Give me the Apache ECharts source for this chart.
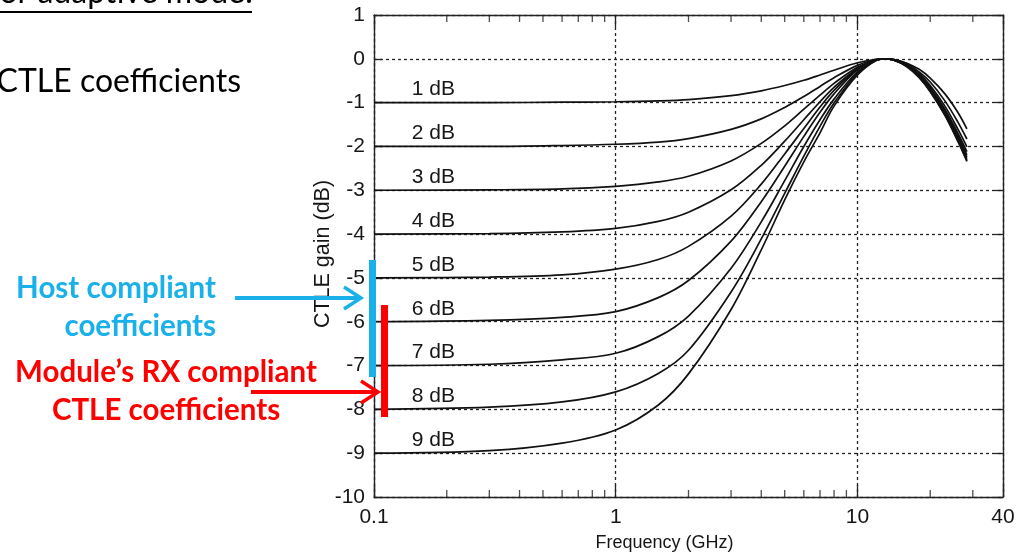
<!DOCTYPE html>
<html><head><meta charset="utf-8">
<script src="https://cdn.jsdelivr.net/npm/echarts@6/dist/echarts.min.js"></script>
<style>html,body{margin:0;padding:0;background:#fff;overflow:hidden}#c{width:1025px;height:557px}</style>
</head><body><div id="c"></div>
<script>
// ---- data ----
const freqGHz = [0.1, 0.3, 0.6, 1, 1.5, 2, 3, 4, 5, 6, 7, 8, 10, 12, 13, 14, 16, 18, 20, 23, 26, 28.36];
const gain1dB = [-1.00,-1.00,-0.99,-0.98,-0.96,-0.93,-0.84,-0.73,-0.61,-0.49,-0.37,-0.26,-0.09,-0.01,0,-0.01,-0.10,-0.24,-0.44,-0.80,-1.22,-1.60];
const gain2dB = [-2.00,-2.00,-1.98,-1.95,-1.90,-1.82,-1.61,-1.37,-1.11,-0.86,-0.63,-0.43,-0.15,-0.01,0,-0.01,-0.11,-0.30,-0.53,-0.96,-1.44,-1.83];
const gain3dB = [-3.00,-2.99,-2.97,-2.91,-2.81,-2.68,-2.33,-1.93,-1.53,-1.15,-0.83,-0.56,-0.19,-0.02,0,-0.02,-0.14,-0.34,-0.61,-1.08,-1.60,-2.01];
const gain4dB = [-4.00,-3.99,-3.95,-3.87,-3.71,-3.50,-2.99,-2.43,-1.88,-1.39,-0.98,-0.65,-0.22,-0.02,0,-0.02,-0.15,-0.37,-0.65,-1.15,-1.69,-2.12];
const gain5dB = [-5.00,-4.98,-4.93,-4.80,-4.58,-4.28,-3.59,-2.86,-2.17,-1.59,-1.10,-0.72,-0.23,-0.02,0,-0.01,-0.15,-0.39,-0.68,-1.19,-1.74,-2.19];
const gain6dB = [-6.00,-5.97,-5.90,-5.77,-5.45,-5.06,-4.16,-3.26,-2.45,-1.77,-1.22,-0.80,-0.25,-0.02,0,-0.02,-0.16,-0.40,-0.71,-1.23,-1.79,-2.24];
const gain7dB = [-7.00,-6.97,-6.87,-6.72,-6.34,-5.87,-4.78,-3.72,-2.78,-2.00,-1.39,-0.92,-0.30,-0.02,0,-0.02,-0.16,-0.41,-0.72,-1.25,-1.83,-2.28];
const gain8dB = [-8.00,-7.95,-7.83,-7.60,-7.18,-6.65,-5.32,-4.11,-3.07,-2.22,-1.54,-1.01,-0.33,-0.03,0,-0.02,-0.17,-0.42,-0.74,-1.28,-1.86,-2.32];
const gain9dB = [-9.00,-8.94,-8.77,-8.47,-7.90,-7.19,-5.72,-4.36,-3.22,-2.35,-1.69,-1.08,-0.37,-0.03,0,-0.02,-0.18,-0.43,-0.75,-1.29,-1.88,-2.34];
const curveLabels = ['1 dB','2 dB','3 dB','4 dB','5 dB','6 dB','7 dB','8 dB','9 dB'];
const lowFreqGain = [-1,-2,-3,-4,-5,-6,-7,-8,-9];
const labelFreq = 0.176;
const minorTickFreqs = [0.2,0.3,0.4,0.5,0.6,0.7,0.8,0.9,2,3,4,5,6,7,8,9,20,30];
const xRange = [0.1, 40];
const yRange = [-10, 1];

// ---- chart ----
const chart = echarts.init(document.getElementById('c'), null, {renderer: 'canvas'});
const curves = [gain1dB,gain2dB,gain3dB,gain4dB,gain5dB,gain6dB,gain7dB,gain8dB,gain9dB];
const FONT = 'Liberation Sans';
const INK = '#161616';

const lineSeries = curves.map((vals, i) => ({
  type: 'line',
  xAxisIndex: 0, yAxisIndex: 0,
  data: freqGHz.map((f, j) => [f, vals[j]]),
  smooth: 0.35,
  showSymbol: false,
  symbol: 'none',
  lineStyle: {color: '#111', width: 1.7},
  z: 3,
  silent: true,
  markPoint: {
    symbol: 'circle', symbolSize: 0, silent: true,
    data: [{coord: [labelFreq, lowFreqGain[i]]}],
    label: {show: true, position: 'inside', offset: [0, -13], formatter: curveLabels[i],
            color: INK, fontFamily: FONT, fontSize: 21}
  }
}));

const tickMark = (yv, off) => ({
  type: 'scatter', xAxisIndex: 0, yAxisIndex: 0, silent: true,
  data: minorTickFreqs.map(f => [f, yv]),
  symbol: 'rect', symbolSize: [1.3, 7], symbolOffset: [0, off],
  itemStyle: {color: '#222'}, z: 6, clip: false
});

const axisLineStyle = {show: true, onZero: false, lineStyle: {color: '#222', width: 1.4}};
const gridDash = {show: true, lineStyle: {color: '#222', width: 1.3, type: [3, 3]}};

chart.setOption({
  animation: false,
  backgroundColor: '#fff',
  grid: {left: 374, right: 22, top: 15, bottom: 59},
  xAxis: [{
    type: 'log', logBase: 10, min: xRange[0], max: xRange[1], position: 'bottom',
    axisLine: axisLineStyle,
    axisTick: {show: true, inside: true, length: 12, lineStyle: {color: '#222', width: 1.3}},
    axisLabel: {show: true, margin: 10, color: INK, fontFamily: FONT, fontSize: 21,
                formatter: v => String(+(+v).toPrecision(3)), showMinLabel: true, showMaxLabel: true},
    splitLine: gridDash,
    minorTick: {show: false},
    name: 'Frequency (GHz)', nameLocation: 'middle', nameGap: 37, nameMoveOverlap: false,
    nameTextStyle: {color: INK, fontFamily: FONT, fontSize: 18, padding: [0, 48, 0, 0]}
  }, {
    type: 'log', logBase: 10, min: xRange[0], max: xRange[1], position: 'top',
    axisLine: axisLineStyle,
    axisTick: {show: true, inside: true, length: 12, lineStyle: {color: '#222', width: 1.3}},
    axisLabel: {show: false}, splitLine: {show: false}
  }],
  yAxis: [{
    type: 'value', min: yRange[0], max: yRange[1], interval: 1, position: 'left',
    axisLine: axisLineStyle,
    axisTick: {show: true, inside: true, length: 8, lineStyle: {color: '#222', width: 1.3}},
    axisLabel: {show: true, margin: 9, color: INK, fontFamily: FONT, fontSize: 21},
    splitLine: gridDash,
    name: 'CTLE gain (dB)', nameLocation: 'middle', nameGap: 40, nameRotate: 90, nameMoveOverlap: false,
    nameTextStyle: {color: INK, fontFamily: FONT, fontSize: 21.5, padding: [0, 0, 0, 4]}
  }, {
    type: 'value', min: yRange[0], max: yRange[1], interval: 1, position: 'right',
    axisLine: axisLineStyle,
    axisTick: {show: true, inside: true, length: 8, lineStyle: {color: '#222', width: 1.3}},
    axisLabel: {show: false}, splitLine: {show: false}
  }],
  series: [...lineSeries, tickMark(yRange[0], -3.5), tickMark(yRange[1], 3.5)],
  graphic: [
    {type: 'text', x: 253, y: 9, z: 10, style: {text: 'for adaptive mode:', fill: '#000',
      font: '32px Lato', textAlign: 'right', textVerticalAlign: 'bottom'}},
    {type: 'line', z: 10, shape: {x1: 0, y1: 12, x2: 252, y2: 12}, style: {stroke: '#000', lineWidth: 2}},
    {type: 'text', x: 241, y: 82, z: 10, style: {text: 'CTLE coefficients', fill: '#000',
      font: '32px Lato', textAlign: 'right', textVerticalAlign: 'middle'}},
    {type: 'text', x: 216, y: 288, z: 10, style: {text: 'Host compliant', fill: '#1AB0EA',
      font: 'bold 29.5px Lato', textAlign: 'right', textVerticalAlign: 'middle'}},
    {type: 'text', x: 216, y: 326, z: 10, style: {text: 'coefficients', fill: '#1AB0EA',
      font: 'bold 29.5px Lato', textAlign: 'right', textVerticalAlign: 'middle'}},
    {type: 'line', z: 10, shape: {x1: 235, y1: 298, x2: 360, y2: 298}, style: {stroke: '#1AB0EA', lineWidth: 4}},
    {type: 'polyline', z: 10, shape: {points: [[344, 287], [361, 298], [344, 309]]}, style: {stroke: '#1AB0EA', lineWidth: 3.5, fill: null}},
    {type: 'rect', z: 10, shape: {x: 369, y: 260, width: 7, height: 117}, style: {fill: '#1AB0EA'}},
    {type: 'text', x: 166, y: 372, z: 10, style: {text: 'Module\u2019s RX compliant', fill: '#FF0000',
      font: 'bold 29.5px Lato', textAlign: 'center', textVerticalAlign: 'middle'}},
    {type: 'text', x: 166, y: 410, z: 10, style: {text: 'CTLE coefficients', fill: '#FF0000',
      font: 'bold 29.5px Lato', textAlign: 'center', textVerticalAlign: 'middle'}},
    {type: 'line', z: 10, shape: {x1: 251, y1: 392, x2: 376, y2: 392}, style: {stroke: '#FF0000', lineWidth: 4}},
    {type: 'polyline', z: 10, shape: {points: [[361, 381], [378, 392], [361, 403]]}, style: {stroke: '#FF0000', lineWidth: 3.5, fill: null}},
    {type: 'rect', z: 10, shape: {x: 381, y: 305, width: 7, height: 112}, style: {fill: '#FF0000'}}
  ]
});
</script></body></html>
